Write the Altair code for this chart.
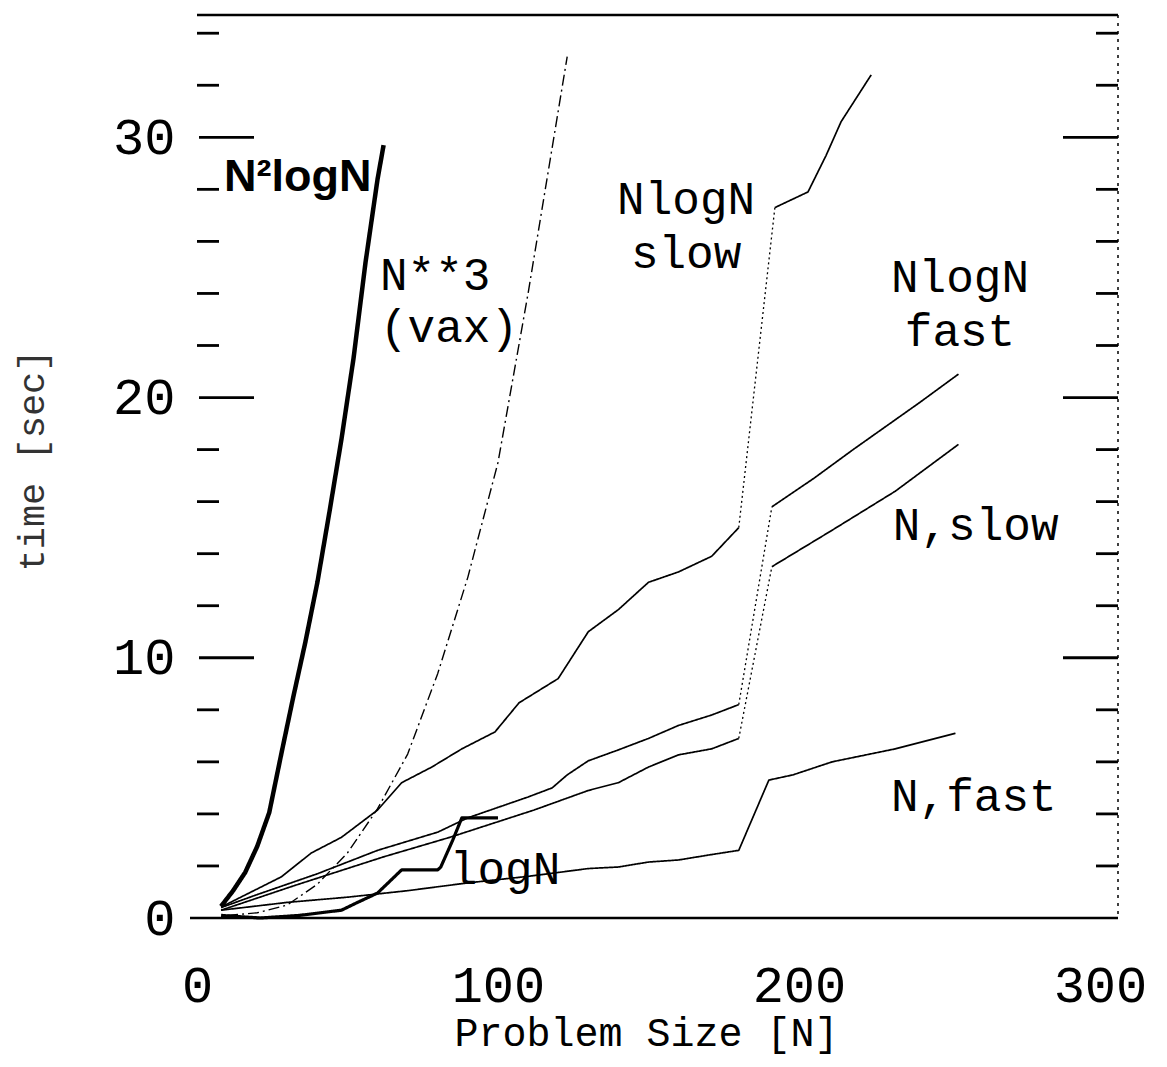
import altair as alt
import pandas as pd

# ---------------- data ----------------
# N^2 log N (thick)
n2logn_N = [8, 12, 16, 20, 24, 28, 32, 36, 40, 44, 48, 52, 56, 60, 62]
n2logn_t = [0.45, 1.05, 1.75, 2.75, 4.05, 6.3, 8.5, 10.6, 12.9, 15.6, 18.4, 21.5, 25.2, 28.4, 29.7]

# N**3 (vax)  (dash-dot)
n3_N = [10, 20, 30, 40, 50, 60, 70, 80, 90, 100, 110, 120, 123]
n3_t = [0.1, 0.2, 0.5, 1.3, 2.5, 4.2, 6.3, 9.4, 13.1, 17.5, 24.0, 31.0, 33.1]

# NlogN slow
nls_pre_N = [8, 28, 38, 48, 60, 68, 78, 88, 99, 107, 120, 130, 140, 150, 160, 171, 180]
nls_pre_t = [0.42, 1.58, 2.5, 3.1, 4.15, 5.2, 5.8, 6.5, 7.15, 8.27, 9.2, 11.0, 11.85, 12.9, 13.3, 13.9, 15.0]
nls_post_N = [192, 203, 209, 214, 224]
nls_post_t = [27.3, 27.9, 29.3, 30.6, 32.4]

# NlogN fast
nlf_pre_N = [8, 20, 40, 60, 70, 80, 90, 100, 110, 118, 123, 130, 140, 150, 160, 171, 180]
nlf_pre_t = [0.4, 0.9, 1.7, 2.6, 2.95, 3.3, 3.85, 4.25, 4.65, 5.0, 5.5, 6.04, 6.46, 6.9, 7.4, 7.8, 8.2]
nlf_post_N = [191, 205, 218, 240, 253]
nlf_post_t = [15.8, 16.9, 18.0, 19.8, 20.9]

# N, slow
ns_pre_N = [8, 33, 62, 84, 112, 130, 140, 150, 160, 171, 180]
ns_pre_t = [0.3, 1.27, 2.35, 3.1, 4.15, 4.9, 5.2, 5.8, 6.27, 6.5, 6.9]
ns_post_N = [191, 211, 232, 253]
ns_post_t = [13.5, 14.9, 16.4, 18.2]

# N, fast
nf_N = [8, 30, 50, 70, 90, 110, 120, 130, 140, 150, 160, 170, 180, 190, 198, 211, 232, 252]
nf_t = [0.3, 0.6, 0.8, 1.05, 1.35, 1.6, 1.75, 1.9, 1.96, 2.15, 2.23, 2.42, 2.6, 5.3, 5.5, 6.0, 6.5, 7.1]

# log N (thick, stepped)
logn_N = [8, 21, 34, 48, 53, 60, 68, 80, 81, 85, 88, 100]
logn_t = [0.1, 0.0, 0.1, 0.3, 0.58, 0.96, 1.85, 1.85, 1.96, 3.0, 3.85, 3.85]

# axis ticks
x_labels = [0, 100, 200, 300]
y_labels = [0, 10, 20, 30]
y_major = [10, 20, 30]
y_minor = [2, 4, 6, 8, 12, 14, 16, 18, 22, 24, 26, 28, 32, 34]

# annotations
mono_left_text = ["N**3\n(vax)", "N,slow", "N,fast", "logN"]
mono_left_N = [60.8, 231.2, 230.6, 84.0]
mono_left_t = [24.15, 14.54, 4.12, 1.3]

mono_center_text = ["NlogN\nslow", "NlogN\nfast"]
mono_center_N = [162.5, 253.5]
mono_center_t = [27.04, 24.04]

hand_text = ["N\u00b2logN"]
hand_N = [9.0]
hand_t = [27.95]

# ---------------- build table ----------------
rows = []


def add(key, Ns, ts, style, w):
    for n, t in zip(Ns, ts):
        rows.append({"key": key, "N": n, "t": t, "style": style, "w": w})


add("n2logn", n2logn_N, n2logn_t, "solid", 4.5)
add("n3", n3_N, n3_t, "dashdot", 1.4)
add("nls_pre", nls_pre_N, nls_pre_t, "solid", 1.7)
add("nls_jump", [nls_pre_N[-1], nls_post_N[0]], [nls_pre_t[-1], nls_post_t[0]], "dot", 1.3)
add("nls_post", nls_post_N, nls_post_t, "solid", 1.7)
add("nlf_pre", nlf_pre_N, nlf_pre_t, "solid", 1.7)
add("nlf_jump", [nlf_pre_N[-1], nlf_post_N[0]], [nlf_pre_t[-1], nlf_post_t[0]], "dot", 1.3)
add("nlf_post", nlf_post_N, nlf_post_t, "solid", 1.7)
add("ns_pre", ns_pre_N, ns_pre_t, "solid", 1.7)
add("ns_jump", [ns_pre_N[-1], ns_post_N[0]], [ns_pre_t[-1], ns_post_t[0]], "dot", 1.3)
add("ns_post", ns_post_N, ns_post_t, "solid", 1.7)
add("nf", nf_N, nf_t, "solid", 1.7)
add("logn", logn_N, logn_t, "solid", 3.2)

df = pd.DataFrame(rows)

W, H = 921, 903
FONT = "Liberation Mono"

xscale = alt.Scale(domain=[0, 306], nice=False, zero=False)
yscale = alt.Scale(domain=[0, 34.7], nice=False, zero=False)

lines = alt.Chart(df).mark_line(color="black", strokeCap="butt", strokeJoin="round").encode(
    x=alt.X("N:Q", scale=xscale,
            axis=alt.Axis(values=x_labels, ticks=False, domain=False, grid=False,
                          labelFont=FONT, labelFontSize=52, labelColor="black",
                          labelPadding=42, labelFlush=False, labelOverlap=False,
                          title="Problem Size [N]", titleFont=FONT, titleFontSize=40,
                          titleFontWeight="normal", titleColor="black",
                          titleX=449, titleY=127, titleAlign="center",
                          titleBaseline="alphabetic")),
    y=alt.Y("t:Q", scale=yscale,
            axis=alt.Axis(values=y_labels, ticks=False, domain=False, grid=False,
                          labelFont=FONT, labelFontSize=52, labelColor="black",
                          labelPadding=22, labelOverlap=False,
                          title="time [sec]", titleFont=FONT, titleFontSize=37,
                          titleFontWeight="normal", titleColor="#333",
                          titleX=-165, titleY=445, titleAlign="center",
                          titleBaseline="middle")),
    detail="key:N",
    strokeDash=alt.StrokeDash("style:N", scale=alt.Scale(
        domain=["solid", "dot", "dashdot"],
        range=[[1, 0], [2, 3], [11, 4, 2, 4]]), legend=None),
    strokeWidth=alt.StrokeWidth("w:Q", scale=None),
)

lmaj = alt.Chart(pd.DataFrame({"t": y_major})).mark_rule(color="black", strokeWidth=2.8).encode(
    y=alt.Y("t:Q", scale=yscale), x=alt.value(2), x2=alt.value(57))
lmin = alt.Chart(pd.DataFrame({"t": y_minor})).mark_rule(color="black", strokeWidth=2.8).encode(
    y=alt.Y("t:Q", scale=yscale), x=alt.value(0), x2=alt.value(22))
rmaj = alt.Chart(pd.DataFrame({"t": y_major})).mark_rule(color="black", strokeWidth=2.8).encode(
    y=alt.Y("t:Q", scale=yscale), x=alt.value(W - 55), x2=alt.value(W))
rmin = alt.Chart(pd.DataFrame({"t": y_minor})).mark_rule(color="black", strokeWidth=2.8).encode(
    y=alt.Y("t:Q", scale=yscale), x=alt.value(W - 22), x2=alt.value(W))

frame_df = pd.DataFrame({"k": [0]})
top_line = alt.Chart(frame_df).mark_rule(color="black", strokeWidth=2.5).encode(
    y=alt.value(0), x=alt.value(0), x2=alt.value(W))
bottom_line = alt.Chart(frame_df).mark_rule(color="black", strokeWidth=2.5).encode(
    y=alt.value(H), x=alt.value(-7), x2=alt.value(W))
right_line = alt.Chart(frame_df).mark_rule(color="black", strokeWidth=1.5, strokeDash=[3, 5]).encode(
    x=alt.value(W), y=alt.value(0), y2=alt.value(H))

ml = alt.Chart(pd.DataFrame({"text": mono_left_text, "N": mono_left_N, "t": mono_left_t})).mark_text(
    font=FONT, fontSize=46, align="left", baseline="alphabetic", lineBreak="\n", lineHeight=52,
    color="black").encode(
    x=alt.X("N:Q", scale=xscale), y=alt.Y("t:Q", scale=yscale), text="text:N")
mc = alt.Chart(pd.DataFrame({"text": mono_center_text, "N": mono_center_N, "t": mono_center_t})).mark_text(
    font=FONT, fontSize=46, align="center", baseline="alphabetic", lineBreak="\n", lineHeight=54,
    color="black").encode(
    x=alt.X("N:Q", scale=xscale), y=alt.Y("t:Q", scale=yscale), text="text:N")
hl = alt.Chart(pd.DataFrame({"text": hand_text, "N": hand_N, "t": hand_t})).mark_text(
    font="Liberation Sans", fontSize=45, fontWeight="bold", align="left", baseline="alphabetic",
    color="black").encode(
    x=alt.X("N:Q", scale=xscale), y=alt.Y("t:Q", scale=yscale), text="text:N")

chart = alt.layer(
    lines, lmaj, lmin, rmaj, rmin, top_line, bottom_line, right_line, ml, mc, hl
).properties(
    width=W, height=H,
    autosize=alt.AutoSizeParams(type="none"),
    padding={"left": 189, "top": 7, "right": 31, "bottom": 141},
    background="white",
).configure_view(stroke=None)

chart.save("out.html", embed_options={"renderer": "svg", "actions": False})
